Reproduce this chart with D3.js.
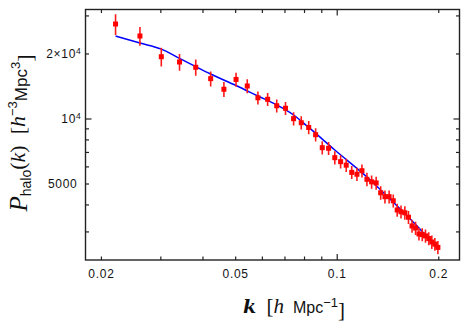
<!DOCTYPE html>
<html>
<head>
<meta charset="utf-8">
<title>halo power spectrum</title>
<script src="https://d3js.org/d3.v7.min.js"></script>
<style>
  body { margin: 0; background: #fff; }
  .tick text { font-family: "Liberation Sans", Arial, sans-serif; font-size: 12px; letter-spacing: 0.7px; fill: #111; }
</style>
</head>
<body>
<div id="chart"></div>
<script>
// measured points: k, P_halo(k), 1-sigma error
var kData = [0.0221, 0.0261, 0.0302, 0.0342, 0.0382, 0.0423, 0.0463, 0.0503, 0.0543, 0.0584,
             0.0624, 0.0664, 0.0705, 0.0745, 0.0785, 0.0826, 0.0866, 0.0906, 0.0946, 0.0987,
             0.1027, 0.1067, 0.1108, 0.1148, 0.1188, 0.1229, 0.1269, 0.1309, 0.1350, 0.1390,
             0.1430, 0.1471, 0.1511, 0.1551, 0.1592, 0.1632, 0.1672, 0.1713, 0.1753, 0.1793,
             0.1833, 0.1874, 0.1914, 0.1954, 0.1995];
var pData = [27380, 24100, 19320, 18260, 17260, 15290, 13660, 15160, 14140, 12470,
             12270, 11450, 11150, 9980, 9560, 9085, 8410, 7325, 7280, 6585,
             6310, 6080, 5630, 5520, 5730, 5230, 5090, 5030, 4530, 4345,
             4345, 4160, 3770, 3700, 3660, 3490, 3180, 3110, 2920, 2900,
             2860, 2780, 2680, 2620, 2530];
var pErr = [3010, 2410, 1930, 1640, 1470, 1220, 1090, 1140, 1060, 870,
            860, 800, 780, 700, 670, 640, 590, 510, 510, 460,
            440, 430, 390, 390, 400, 370, 360, 350, 320, 300,
            300, 290, 260, 260, 260, 240, 220, 220, 200, 200,
            200, 190, 190, 180, 180];

// model curve
var thK = [0.0221, 0.0261, 0.0302, 0.0342, 0.0382, 0.0423, 0.0503, 0.0584, 0.0664, 0.0745,
           0.0826, 0.0987, 0.1229, 0.1511, 0.1753, 0.1995];
var thP = [24100, 22340, 20940, 18980, 17390, 16070, 14210, 12710, 11550, 10380,
           9090, 7150, 5360, 3930, 3110, 2490];

var xTicks = [0.02, 0.03, 0.04, 0.05, 0.06, 0.07, 0.08, 0.09, 0.1, 0.2];
var xLabels = [0.02, 0.05, 0.1, 0.2];
var yTicks = [3000, 4000, 5000, 6000, 7000, 8000, 9000, 10000, 20000, 30000];

var W = 469, H = 325;
var margin = {left: 85.5, top: 9.5, right: 9.5, bottom: 65};
var w = W - margin.left - margin.right;
var h = H - margin.top - margin.bottom;

var svg = d3.select("#chart").append("svg")
    .attr("width", W).attr("height", H);
var g = svg.append("g")
    .attr("transform", "translate(" + margin.left + "," + margin.top + ")");

var x = d3.scaleLog().domain([0.018, 0.2312]).range([0, w]);
var y = d3.scaleLog().domain([2212, 31960]).range([h, 0]);

// clip
g.append("clipPath").attr("id", "clip")
  .append("rect").attr("width", w).attr("height", h);

var plot = g.append("g").attr("clip-path", "url(#clip)");

// theory line
var line = d3.line()
    .x(function(d) { return x(d[0]); })
    .y(function(d) { return y(d[1]); })
    .curve(d3.curveMonotoneX);
plot.append("path")
    .datum(thK.map(function(k, i) { return [k, thP[i]]; }))
    .attr("d", line)
    .attr("fill", "none")
    .attr("stroke", "#0000ff")
    .attr("stroke-width", 1.5);

// error bars + markers
var pts = kData.map(function(k, i) { return {k: k, p: pData[i], e: pErr[i]}; });
plot.selectAll(".err").data(pts).enter().append("line")
    .attr("class", "err")
    .attr("x1", function(d) { return x(d.k); })
    .attr("x2", function(d) { return x(d.k); })
    .attr("y1", function(d) { return y(d.p + d.e); })
    .attr("y2", function(d) { return y(d.p - d.e); })
    .attr("stroke", "#ff1a1a")
    .attr("stroke-width", 1.6);
plot.selectAll(".pt").data(pts).enter().append("rect")
    .attr("class", "pt")
    .attr("x", function(d) { return x(d.k) - 2.5; })
    .attr("y", function(d) { return y(d.p) - 2.5; })
    .attr("width", 5).attr("height", 5)
    .attr("fill", "#ff0000");

// axes, ticks pointing in
function tickLen(d) { return (d === 0.1 || d === 10000) ? 6 : 3.5; }

var xb = g.append("g").attr("transform", "translate(0," + h + ")")
    .call(d3.axisBottom(x).tickValues(xTicks).tickSizeInner(-3.5).tickSizeOuter(0).tickPadding(9)
      .tickFormat(function(d) { return xLabels.indexOf(d) >= 0 ? d3.format("")(d) : ""; }));
xb.selectAll(".tick line").attr("y2", function(d) { return -tickLen(d); });

var xt = g.append("g")
    .call(d3.axisTop(x).tickValues(xTicks).tickSizeInner(-3.5).tickSizeOuter(0).tickFormat(""));
xt.selectAll(".tick line").attr("y2", function(d) { return tickLen(d); });

var yl = g.append("g")
    .call(d3.axisLeft(y).tickValues(yTicks).tickSizeInner(-3.5).tickSizeOuter(0).tickPadding(8)
      .tickFormat(function(d) { return d === 5000 ? "5000" : ""; }));
yl.selectAll(".tick line").attr("x2", function(d) { return tickLen(d); });

var yr = g.append("g").attr("transform", "translate(" + w + ",0)")
    .call(d3.axisRight(y).tickValues(yTicks).tickSizeInner(-3.5).tickSizeOuter(0).tickFormat(""));
yr.selectAll(".tick line").attr("x2", function(d) { return -tickLen(d); });

g.selectAll(".domain").remove();
g.selectAll(".tick line").attr("stroke", "#222").attr("stroke-width", 1.2);

// power-of-ten labels
function sciLabel(v, pre) {
  var t = g.append("text")
      .attr("x", -4).attr("y", y(v)).attr("dy", "0.35em")
      .attr("text-anchor", "end")
      .style("font-family", "Liberation Sans, Arial, sans-serif")
      .style("font-size", "12px").style("letter-spacing", "0.7px").attr("fill", "#111");
  t.append("tspan").text(pre + "10");
  t.append("tspan").attr("dy", "-0.45em").style("font-size", "8.5px").text("4");
}
sciLabel(10000, "");
sciLabel(20000, "2\u00d7");

// frame
g.append("rect").attr("width", w).attr("height", h)
    .attr("fill", "none").attr("stroke", "#222").attr("stroke-width", 1.4);

// axis titles
var serif = "Liberation Serif, Times New Roman, serif";
var sans = "Liberation Sans, Arial, sans-serif";
var sp = "\u00a0";

var xl = svg.append("text")
    .attr("x", 294).attr("y", 313)
    .attr("text-anchor", "middle")
    .style("font-size", "21px").attr("fill", "#111");
xl.append("tspan").style("font-family", "DejaVu Serif, serif").style("font-style", "italic").style("font-weight", "bold").style("font-size", "19px").text("k");
xl.append("tspan").style("font-family", serif).text(sp + sp + "[");
xl.append("tspan").style("font-family", serif).style("font-style", "italic").text("h");
xl.append("tspan").style("font-family", sans).style("font-size", "16px").text(sp + sp + "Mpc");
xl.append("tspan").style("font-family", sans).attr("dy", "-0.5em").style("font-size", "13px").text("\u22121");
xl.append("tspan").style("font-family", serif).attr("dy", "0.5em").text("]");

var ylab = svg.append("text")
    .attr("transform", "translate(27,133) rotate(-90)")
    .attr("text-anchor", "middle")
    .style("font-size", "22px").attr("fill", "#111");
ylab.append("tspan").style("font-family", serif).style("font-style", "italic").style("font-size", "25px").text("P");
ylab.append("tspan").style("font-family", sans).style("font-size", "14px").attr("dy", "0.3em").text("halo");
ylab.append("tspan").style("font-family", serif).attr("dy", "-0.3em").text("(");
ylab.append("tspan").style("font-family", serif).style("font-style", "italic").text("k");
ylab.append("tspan").style("font-family", serif).text(")" + sp + sp + "[");
ylab.append("tspan").style("font-family", serif).style("font-style", "italic").text("h");
ylab.append("tspan").style("font-family", sans).style("font-size", "13px").attr("dy", "-0.55em").text("\u22123");
ylab.append("tspan").style("font-family", sans).style("font-size", "17px").attr("dy", "0.55em").text("Mpc");
ylab.append("tspan").style("font-family", sans).style("font-size", "13px").attr("dy", "-0.55em").text("3");
ylab.append("tspan").style("font-family", serif).attr("dy", "0.55em").text("]");
</script>
</body>
</html>
